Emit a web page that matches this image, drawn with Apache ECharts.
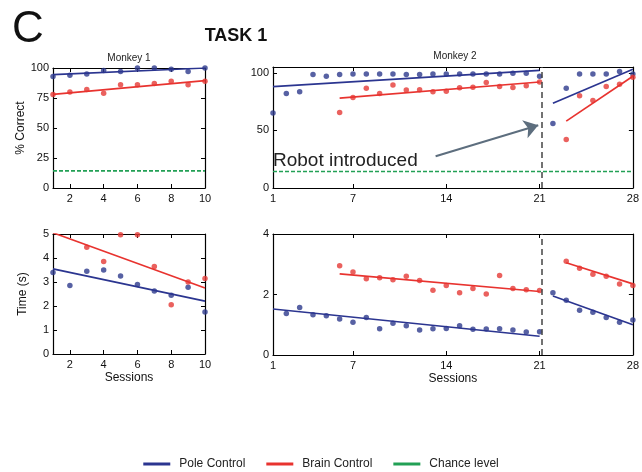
<!DOCTYPE html>
<html><head><meta charset="utf-8">
<script src="https://cdn.jsdelivr.net/npm/echarts@6/dist/echarts.min.js"></script>
<style>html,body{margin:0;padding:0;background:#fff}#c{width:642px;height:472px}</style>
</head><body><div id="c"></div>
<script>
// ---------------- DATA ----------------
const m1Sessions = [1, 2, 3, 4, 5, 6, 7, 8, 9, 10];
const m1PoleCorrect = [93, 94, 95, 98, 97, 100, 100, 99, 97, 100];
const m1BrainCorrect = [78, 80, 82, 79, 86, 86, 87, 89, 86, 89];
const m1PoleTime = [3.4, 2.85, 3.45, 3.5, 3.25, 2.9, 2.62, 2.45, 2.78, 1.75];
const m1BrainTimeSessions = [3, 4, 5, 6, 7, 8, 9, 10];
const m1BrainTime = [4.45, 3.85, 4.97, 4.97, 3.65, 2.05, 3.0, 3.15];

const m2PoleSessions = [1,2,3,4,5,6,7,8,9,10,11,12,13,14,15,16,17,18,19,20,21,22,23,24,25,26,27,28];
const m2PoleCorrect = [65,82,83.5,98.5,97,98.5,99,99,99,99,98.5,98.5,99,99,99,99,99,99,99.5,99.5,97,56,86.5,99,99,99,101,99];
const m2BrainSessions = [6,7,8,9,10,11,12,13,14,15,16,17,18,19,20,21,23,24,25,26,27,28];
const m2BrainCorrect = [65.5,78.5,86.5,82,89.3,85,85.3,83.5,84,87,87.5,91.5,88,87.3,88.8,92,42,80,76,88,90,96];
const m2PoleTimeSessions = [2,3,4,5,6,7,8,9,10,11,12,13,14,15,16,17,18,19,20,21,22,23,24,25,26,27,28];
const m2PoleTime = [1.37,1.57,1.33,1.3,1.19,1.08,1.24,0.87,1.05,0.97,0.83,0.87,0.88,0.97,0.85,0.86,0.87,0.83,0.76,0.77,2.06,1.81,1.48,1.41,1.24,1.08,1.16];
const m2BrainTime = [2.95,2.74,2.52,2.55,2.49,2.6,2.46,2.14,2.3,2.06,2.2,2.02,2.63,2.2,2.16,2.13,3.1,2.87,2.67,2.6,2.35,2.3];

// regression fit lines (end points)
const m1PoleCorrectFit = [[1, 94.5], [10, 100]];
const m1BrainCorrectFit = [[1, 78], [10, 89.5]];
const m1PoleTimeFit = [[1, 3.55], [10, 2.2]];
const m1BrainTimeFit = [[1, 5.05], [10, 2.75]];
const m2PoleCorrectFitPre = [[1, 88], [21, 102]];
const m2PoleCorrectFitPost = [[22, 73.5], [28, 103]];
const m2BrainCorrectFitPre = [[6, 78], [21, 92]];
const m2BrainCorrectFitPost = [[23, 58], [28, 97]];
const m2PoleTimeFitPre = [[1, 1.52], [21, 0.62]];
const m2PoleTimeFitPost = [[22, 1.95], [28, 1.0]];
const m2BrainTimeFitPre = [[6, 2.68], [21, 2.1]];
const m2BrainTimeFitPost = [[23, 3.05], [28, 2.35]];

const chanceLevel = 14.3;
const robotSession = 21.2;
const arrowFrom = [13.2, 27.6];
const arrowTo = [20.9, 54.5];
const robotLabelAnchor = [1, 23.5];

const m1XTicks = [2, 4, 6, 8, 10];
const m2XTicks = [1, 7, 14, 21, 28];
const m1CorrectTicks = [0, 25, 50, 75, 100];
const m2CorrectTicks = [0, 50, 100];
const m1TimeTicks = [0, 1, 2, 3, 4, 5];
const m2TimeTicks = [0, 2, 4];

// ---------------- STYLE ----------------
const FONT = 'Liberation Sans, Arial, Helvetica, sans-serif';
const BLUE = '#2b3590';
const RED = '#e8332f';
const GREEN = '#22a055';
const BLUE_DOT = '#2d3a8c';
const RED_DOT = '#e53a36';

const pair = (xs, ys) => xs.map((x, i) => [x, ys[i]]);

const grids = [
  { left: 53, top: 68, width: 152, height: 120 },
  { left: 273, top: 67, width: 363, height: 121 },
  { left: 53, top: 234, width: 152, height: 120 },
  { left: 273, top: 234, width: 363, height: 121 }
];

const xAxes = [], yAxes = [];
function addAxes(g, xmin, xmax, xticks, ymin, ymax, yticks, xName, yName) {
  const line = { show: true, onZero: false, lineStyle: { color: '#000', width: 1.2 } };
  const lab = { color: '#111', fontSize: 11, fontFamily: FONT };
  xAxes.push({ type: 'value', gridIndex: g, min: xmin, max: xmax, position: 'bottom',
    axisLine: line, splitLine: { show: false },
    axisTick: { show: true, inside: true, length: 4, customValues: xticks, lineStyle: { color: '#000' } },
    axisLabel: Object.assign({ customValues: xticks, margin: 5 }, lab),
    name: xName || '', nameLocation: 'middle', nameGap: 18,
    nameTextStyle: { fontSize: 12, color: '#111', fontFamily: FONT } });
  xAxes.push({ type: 'value', gridIndex: g, min: xmin, max: xmax, position: 'top',
    axisLine: line, splitLine: { show: false },
    axisTick: { show: true, inside: true, length: 4, customValues: xticks, lineStyle: { color: '#000' } },
    axisLabel: { show: false } });
  yAxes.push({ type: 'value', gridIndex: g, min: ymin, max: ymax, position: 'left',
    axisLine: line, splitLine: { show: false },
    axisTick: { show: true, inside: true, length: 4, customValues: yticks, lineStyle: { color: '#000' } },
    axisLabel: Object.assign({ customValues: yticks, margin: 4 }, lab),
    name: yName || '', nameLocation: 'middle', nameRotate: 90, nameGap: 24,
    nameTextStyle: { fontSize: 12, color: '#111', fontFamily: FONT } });
  yAxes.push({ type: 'value', gridIndex: g, min: ymin, max: ymax, position: 'right',
    axisLine: line, splitLine: { show: false },
    axisTick: { show: true, inside: true, length: 4, customValues: yticks, lineStyle: { color: '#000' } },
    axisLabel: { show: false } });
}
addAxes(0, 1, 10, m1XTicks, 0, 100, m1CorrectTicks, '', '% Correct');
addAxes(1, 1, 28, m2XTicks, 0, 105, m2CorrectTicks, '', '');
addAxes(2, 1, 10, m1XTicks, 0, 5, m1TimeTicks, 'Sessions', 'Time (s)');
addAxes(3, 1, 28, m2XTicks, 0, 4, m2TimeTicks, 'Sessions', '');

const series = [];
function scatter(g, name, data, color) {
  series.push({ type: 'scatter', name, xAxisIndex: 2 * g, yAxisIndex: 2 * g, data,
    symbol: 'circle', symbolSize: 5.5, itemStyle: { color }, silent: true, z: 3 });
}
function fit(g, name, data, color, extra) {
  series.push(Object.assign({ type: 'line', name, xAxisIndex: 2 * g, yAxisIndex: 2 * g, data,
    symbol: 'none', lineStyle: { color, width: 1.7 }, itemStyle: { color }, silent: true, z: 4 }, extra || {}));
}
const robotLine = {
  markLine: { symbol: 'none', silent: true, label: { show: false },
    lineStyle: { color: '#444', width: 1.5, type: [6, 4] }, data: [{ xAxis: robotSession }] }
};

// Panel 1: Monkey 1 % correct
fit(0, 'Pole Control', m1PoleCorrectFit, BLUE);
fit(0, 'Brain Control', m1BrainCorrectFit, RED);
fit(0, 'Chance level', [[m1Sessions[0], chanceLevel], [m1Sessions[m1Sessions.length - 1], chanceLevel]], GREEN,
  { lineStyle: { color: GREEN, width: 1.6, type: [4, 2] } });
scatter(0, 'Pole Control', pair(m1Sessions, m1PoleCorrect), BLUE_DOT);
scatter(0, 'Brain Control', pair(m1Sessions, m1BrainCorrect), RED_DOT);

// Panel 2: Monkey 2 % correct
fit(1, 'Pole Control', m2PoleCorrectFitPre, BLUE, robotLine);
fit(1, 'Pole Control', m2PoleCorrectFitPost, BLUE);
fit(1, 'Brain Control', m2BrainCorrectFitPre, RED);
fit(1, 'Brain Control', m2BrainCorrectFitPost, RED);
fit(1, 'Chance level', [[m2PoleSessions[0], chanceLevel], [m2PoleSessions[m2PoleSessions.length - 1], chanceLevel]], GREEN,
  { lineStyle: { color: GREEN, width: 1.6, type: [4, 2] },
    markLine: { symbol: ['none', 'arrow'], symbolSize: 14, silent: true, label: { show: false },
      lineStyle: { color: '#5d6e7e', width: 2, type: 'solid' },
      data: [[{ coord: arrowFrom }, { coord: arrowTo }]] },
    markPoint: { silent: true, symbol: 'circle', symbolSize: 0,
      data: [{ coord: robotLabelAnchor }],
      label: { show: true, formatter: 'Robot introduced', position: 'right', distance: 0,
        fontSize: 19, color: '#222', fontFamily: FONT } } });
scatter(1, 'Pole Control', pair(m2PoleSessions, m2PoleCorrect), BLUE_DOT);
scatter(1, 'Brain Control', pair(m2BrainSessions, m2BrainCorrect), RED_DOT);

// Panel 3: Monkey 1 time
fit(2, 'Pole Control', m1PoleTimeFit, BLUE);
fit(2, 'Brain Control', m1BrainTimeFit, RED);
scatter(2, 'Pole Control', pair(m1Sessions, m1PoleTime), BLUE_DOT);
scatter(2, 'Brain Control', pair(m1BrainTimeSessions, m1BrainTime), RED_DOT);

// Panel 4: Monkey 2 time
fit(3, 'Pole Control', m2PoleTimeFitPre, BLUE, robotLine);
fit(3, 'Pole Control', m2PoleTimeFitPost, BLUE);
fit(3, 'Brain Control', m2BrainTimeFitPre, RED);
fit(3, 'Brain Control', m2BrainTimeFitPost, RED);
scatter(3, 'Pole Control', pair(m2PoleTimeSessions, m2PoleTime), BLUE_DOT);
scatter(3, 'Brain Control', pair(m2BrainSessions, m2BrainTime), RED_DOT);

const chart = echarts.init(document.getElementById('c'), null, { renderer: 'canvas' });
chart.setOption({
  animation: false,
  backgroundColor: '#fff',
  textStyle: { fontFamily: FONT },
  grid: grids,
  xAxis: xAxes,
  yAxis: yAxes,
  legend: {
    top: 453, left: 'center', itemWidth: 27, itemHeight: 3, itemGap: 21,
    textStyle: { fontSize: 12, color: '#222', fontFamily: FONT, padding: [0, 0, 0, 4] },
    data: [
      { name: 'Pole Control', icon: 'rect', itemStyle: { color: BLUE } },
      { name: 'Brain Control', icon: 'rect', itemStyle: { color: RED } },
      { name: 'Chance level', icon: 'rect', itemStyle: { color: GREEN } }
    ]
  },
  graphic: [
    { type: 'text', x: 28, y: 30, style: { text: 'C', fontSize: 44, fontFamily: FONT, fill: '#111', textAlign: 'center', textVerticalAlign: 'middle' } },
    { type: 'text', x: 236, y: 36, style: { text: 'TASK 1', fontSize: 18, fontWeight: 'bold', fontFamily: FONT, fill: '#111', textAlign: 'center', textVerticalAlign: 'middle' } },
    { type: 'text', x: 129, y: 58, style: { text: 'Monkey 1', fontSize: 10, fontFamily: FONT, fill: '#222', textAlign: 'center', textVerticalAlign: 'middle' } },
    { type: 'text', x: 455, y: 56, style: { text: 'Monkey 2', fontSize: 10, fontFamily: FONT, fill: '#222', textAlign: 'center', textVerticalAlign: 'middle' } }
  ],
  series
});
</script></body></html>
